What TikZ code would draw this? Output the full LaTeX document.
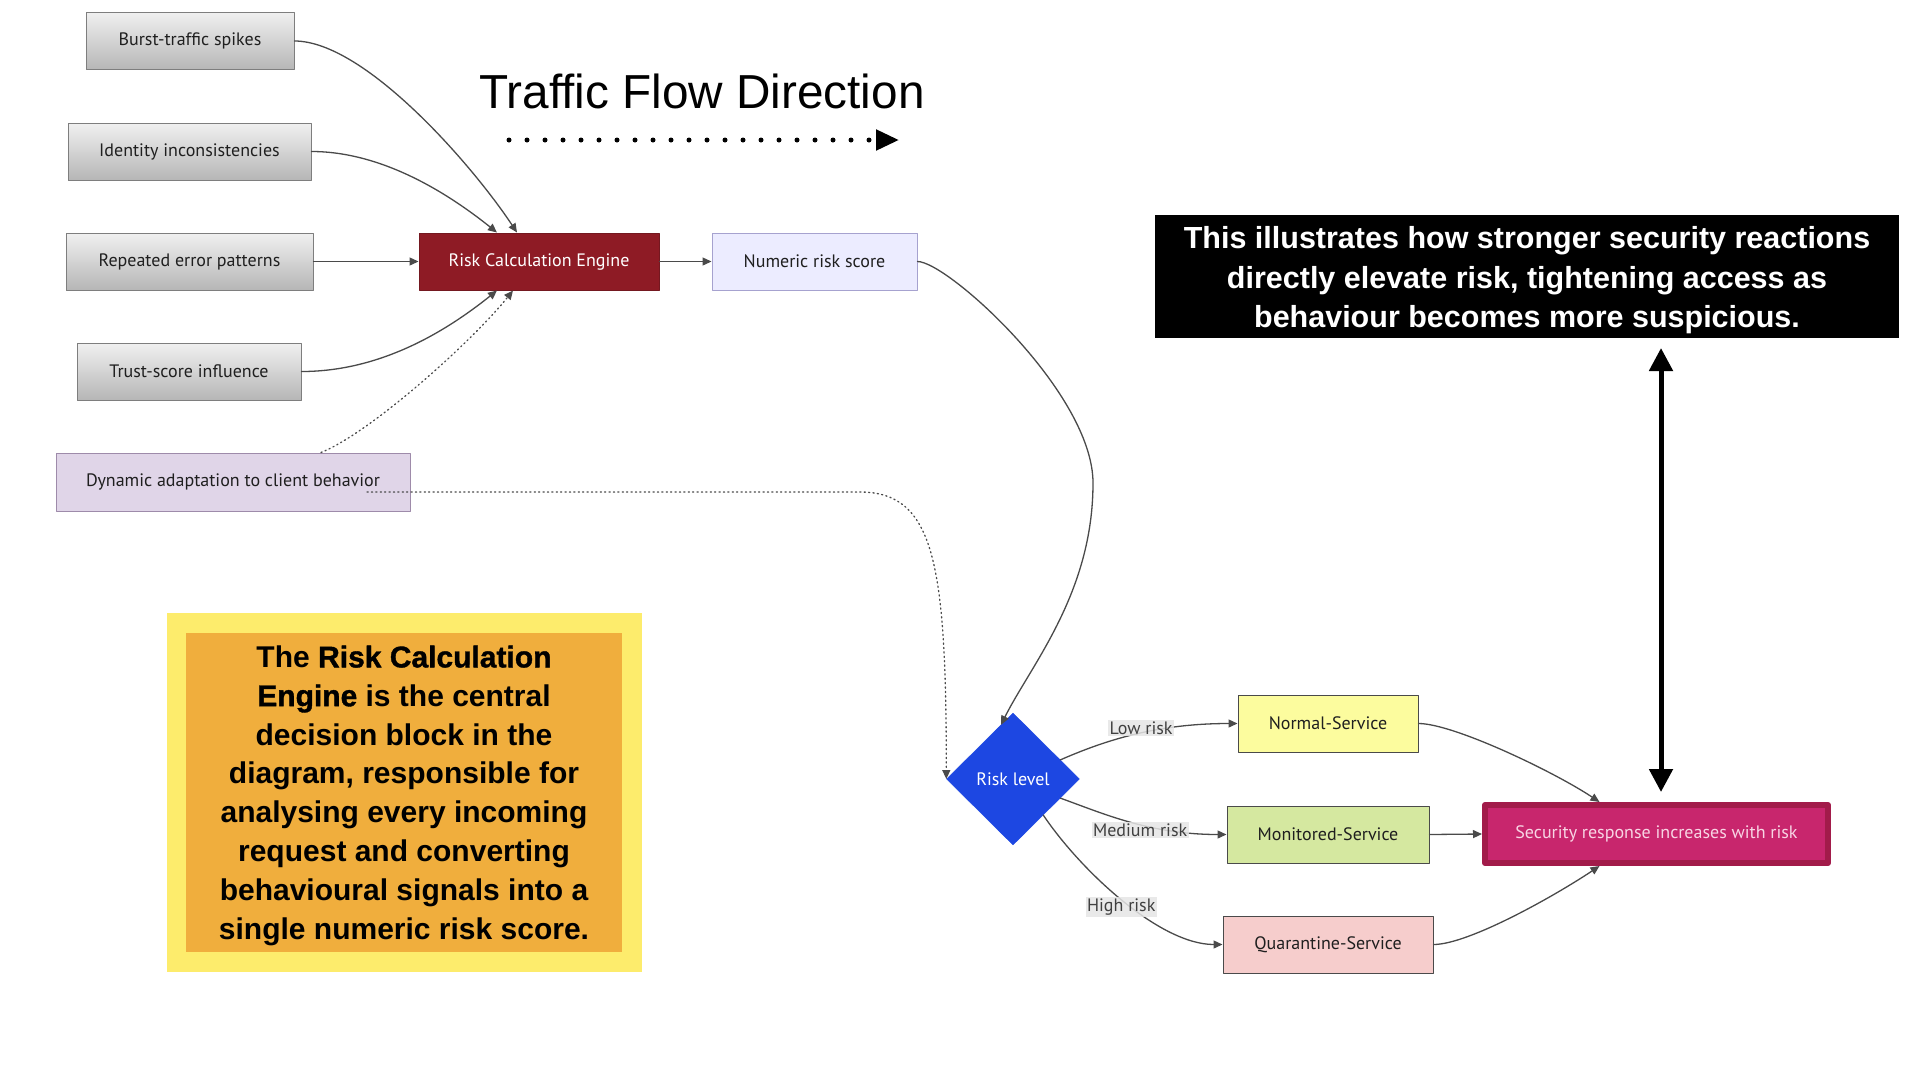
\documentclass[tikz,border=0pt]{standalone}
\usepackage{fontspec}
\setmainfont{PT Sans}
\newfontfamily\arialfont{Liberation Sans}
\usepackage{tikz}
\usetikzlibrary{arrows.meta}
\usetikzlibrary{shapes.geometric}
\usetikzlibrary{positioning}

\definecolor{edgegray}{HTML}{4A4A4A}
\definecolor{inputtop}{HTML}{F0F0F0}
\definecolor{inputbottom}{HTML}{B6B6B6}
\definecolor{inputdraw}{HTML}{7E7E7E}
\definecolor{enginefill}{HTML}{8E1B25}
\definecolor{enginedraw}{HTML}{741820}
\definecolor{scorefill}{HTML}{ECECFF}
\definecolor{scoredraw}{HTML}{A6A2CF}
\definecolor{dynfill}{HTML}{E0D5E8}
\definecolor{dyndraw}{HTML}{9E8BAA}
\definecolor{riskblue}{HTML}{1D47E2}
\definecolor{normalfill}{HTML}{FCFC9E}
\definecolor{monitfill}{HTML}{D5E8A0}
\definecolor{quarfill}{HTML}{F6CDCC}
\definecolor{svcdraw}{HTML}{4A4A4A}
\definecolor{securefill}{HTML}{C8266D}
\definecolor{securedraw}{HTML}{A21B4A}
\definecolor{securetext}{HTML}{F8D5E4}
\definecolor{noteyellow}{HTML}{FDEC6C}
\definecolor{noteorange}{HTML}{F0AE3D}
\definecolor{labelgray}{HTML}{E6E6E6}

\newcommand{\heavy}[1]{{\addfontfeature{FakeBold=1.2}#1}}

\tikzset{
  box/.style={rectangle, draw, line width=1pt, minimum height=57pt, inner sep=0pt,
    font=\fontsize{18}{22}\selectfont, text=black!88},
  inbox/.style={box, top color=inputtop, bottom color=inputbottom, draw=inputdraw},
  svcbox/.style={box, draw=svcdraw},
  edge/.style={draw=edgegray, line width=1.3pt, -{Triangle[length=9pt,width=8pt]}},
  dotedge/.style={edge, dash pattern=on 1.2pt off 3.2pt},
  elabel/.style={fill=labelgray, fill opacity=0.85, text opacity=1, inner sep=1.5pt,
    font=\fontsize{18}{21}\selectfont, text=black!75},
  bigtip/.style={line width=5pt, {Triangle[length=23pt,width=23pt]}-{Triangle[length=23pt,width=23pt]}}
}

\begin{document}
\begin{tikzpicture}[line cap=round,line join=round,x=1pt,y=1pt]
% Canvas
\useasboundingbox[fill=white] (0,0) rectangle (1920,-1080);

% Title and flow direction
\node[anchor=base, font=\arialfont\fontsize{47.7}{50}\selectfont] (title) at (702,-108) {Traffic Flow Direction};
\coordinate (flowA) at (509,-140);
\coordinate (flowB) at (899,-140);
\draw[line width=5pt, dash pattern=on 0pt off 18pt, -{Triangle[length=23pt,width=20pt]}] (flowA) -- (flowB);

% Input signals
\node[inbox, minimum width=208pt] (burst) at (190,-41) {Burst-traffic spikes};
\node[inbox, minimum width=243pt] (ident) at (189.5,-151.5) {Identity inconsistencies};
\node[inbox, minimum width=247pt] (repeat) at (189.5,-261.5) {Repeated error patterns};
\node[inbox, minimum width=224pt] (trust) at (189,-371.5) {Trust-score influence};
\node[box, fill=dynfill, draw=dyndraw, minimum width=354pt, minimum height=58pt] (dyn) at (233,-482) {Dynamic adaptation to client behavior};

% Engine and score
\node[box, fill=enginefill, draw=enginedraw, text=white, minimum width=240pt] (engine) at (539,-261.5) {Risk Calculation Engine};
\node[box, fill=scorefill, draw=scoredraw, minimum width=205pt] (score) at (814.5,-261.5) {Numeric risk score};

% Decision and services
\node[diamond, fill=riskblue, draw=riskblue, text=white, minimum width=133pt, minimum height=132pt,
  inner sep=0pt, font=\fontsize{18}{22}\selectfont] (risk) at (1013,-779) {Risk level};
\node[svcbox, fill=normalfill, minimum width=180pt] (normal) at (1328,-723.5) {Normal-Service};
\node[svcbox, fill=monitfill, minimum width=202pt] (monit) at (1328,-834.5) {Monitored-Service};
\node[svcbox, fill=quarfill, minimum width=210pt] (quar) at (1328,-944.5) {Quarantine-Service};
\node[box, fill=securefill, draw=securedraw, line width=6pt, text=securetext, minimum width=343pt,
  minimum height=58pt] (secure) at (1656.5,-834) {Security response increases with risk};

% Notes
\node[fill=noteyellow, minimum width=475pt, minimum height=359pt, inner sep=0pt] (noteback) at (404.5,-792.5) {};
\node[fill=noteorange, minimum width=436pt, minimum height=319pt, inner sep=0pt] (note) at (404,-792.5) {};
\node[align=center, inner sep=0pt, font=\arialfont\bfseries\fontsize{30}{38.8}\selectfont]
  (notetext) at ([yshift=-3pt]note.center)
  {The \heavy{Risk Calculation}\\\heavy{Engine} is the central\\decision block in the\\diagram, responsible for\\analysing every incoming\\request and converting\\behavioural signals into a\\single numeric risk score.};
\node[fill=black, minimum width=744pt, minimum height=123pt, inner sep=0pt] (caption) at (1527,-276.5) {};
\node[text=white, align=center, inner sep=0pt, font=\arialfont\bfseries\fontsize{30.5}{39.5}\selectfont]
  (captiontext) at ([yshift=-4pt]caption.center)
  {This illustrates how stronger security reactions\\directly elevate risk, tightening access as\\behaviour becomes more suspicious.};
\coordinate (linkTop) at (1661,-348);
\coordinate (linkBot) at (1661,-792);
\draw[bigtip] (linkTop) -- (linkBot);

% Signals into the engine
\draw[edge] (burst.east) .. controls +(70,0) and +(-45,68) .. ([xshift=-22pt]engine.north);
\draw[edge] (ident.east) .. controls +(70,0) and +(-50,40) .. ([xshift=-42pt]engine.north);
\draw[edge] (repeat.east) -- (engine.west);
\draw[edge] (trust.east) .. controls +(80,0) and +(-50,-40) .. ([xshift=-42pt]engine.south);
\draw[dotedge] ([xshift=88pt]dyn.north) .. controls +(50,20) and +(-40,-50) .. ([xshift=-26pt]engine.south);
\draw[dotedge] ([shift={(134,-10)}]dyn.center) -- ++(493,0) .. controls +(75,0) and +(0,214) .. (risk.west);

% Engine to decision
\draw[edge] (engine.east) -- (score.west);
\draw[edge] (score.east) .. controls +(30,0) and +(0,90) .. (1093,-483)
  .. controls +(0,-110) and +(30,60) .. ([shift={(-12,-12)}]risk.north);

% Decision to services
\draw[edge] (risk.22) .. controls +(48,21) and +(-78,0) .. (normal.west) node[elabel, pos=0.52, yshift=5pt] {Low risk};
\draw[edge] (risk.-22) .. controls +(42,-15) and +(-77,0) .. (monit.west) node[elabel, pos=0.56, yshift=-6pt] {Medium risk};
\draw[edge] (risk.-50) .. controls +(37,-55) and +(-63,0) .. (quar.west) node[elabel, pos=0.49, yshift=-8pt] {High risk};

% Services to response
\draw[edge] (normal.east) .. controls +(35,0) and +(-45,30) .. ([xshift=-57pt]secure.north);
\draw[edge] (monit.east) -- (secure.west);
\draw[edge] (quar.east) .. controls +(35,0) and +(-45,-30) .. ([xshift=-57pt]secure.south);
\end{tikzpicture}
\end{document}
